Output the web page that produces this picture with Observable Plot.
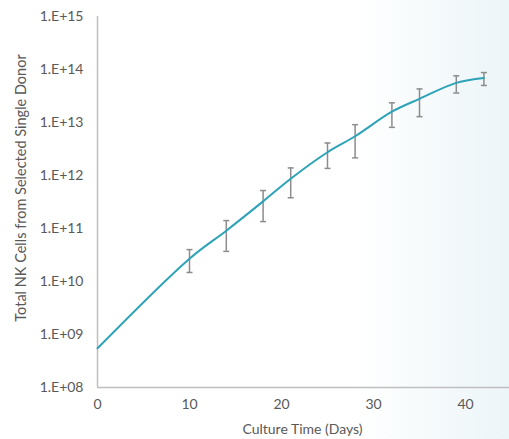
<!DOCTYPE html>
<html>
<head>
<meta charset="utf-8">
<script src="https://cdn.jsdelivr.net/npm/d3@7"></script>
<script src="https://cdn.jsdelivr.net/npm/@observablehq/plot@0.6"></script>
<style>
  html, body { margin: 0; padding: 0; background: #ffffff; }
  #chart svg { display: block; }
</style>
</head>
<body>
<div id="chart"></div>
<script>
const days  = [0, 10, 14, 18, 21, 25, 28, 32, 35, 39, 42];
const cells = [5.5e8, 2.7e10, 9.1e10, 3.25e11, 8.7e11, 2.75e12, 5.5e12, 1.6e13, 2.8e13, 5.6e13, 6.9e13];
const lower = [null, 1.48e10, 3.7e10, 1.35e11, 3.8e11, 1.36e12, 2.15e12, 8.1e12, 1.29e13, 3.6e13, 5.0e13];
const upper = [null, 4.0e10, 1.41e11, 5.2e11, 1.39e12, 4.1e12, 9.1e12, 2.35e13, 4.3e13, 7.6e13, 8.75e13];
const xTicks = [0, 10, 20, 30, 40];
const yTicks = [1e8, 1e9, 1e10, 1e11, 1e12, 1e13, 1e14, 1e15];
const xTitle = "Culture Time (Days)";
const yTitle = "Total NK Cells from Selected Single Donor";

const rows = days.map((d, i) => ({day: d, cells: cells[i], lo: lower[i], hi: upper[i]}));
const bars = rows.filter(r => r.lo != null);
const capSymbol = {
  draw(ctx, size) {
    const w = Math.sqrt(size / Math.PI);
    ctx.moveTo(-w, 0);
    ctx.lineTo(w, 0);
  }
};
const fmt = v => "1.E+" + String(Math.round(Math.log10(v))).padStart(2, "0");
const textColor = "#595959";
const axisColor = "#bfbfbf";

const chart = Plot.plot({
  width: 509,
  height: 439,
  marginLeft: 97,
  marginRight: -2,
  marginTop: 16,
  marginBottom: 52,
  style: {
    background: "linear-gradient(to right, #ffffff 0%, #ffffff 70%, #ecf5f8 100%)",
    fontFamily: "Lato, 'Open Sans', sans-serif",
    fontSize: "14px",
    color: textColor
  },
  x: {domain: [0, 45]},
  y: {type: "log", domain: [1e8, 1e15]},
  marks: [
    Plot.axisX({ticks: xTicks, tickSize: 0, tickPadding: 12, label: null, fill: textColor, fontSize: 14}),
    Plot.axisY({ticks: yTicks, tickSize: 0, tickPadding: 14, tickFormat: fmt, label: null, fill: textColor, fontSize: 14}),
    Plot.ruleX([0], {y1: 1e8, y2: 1e15, stroke: axisColor, strokeWidth: 1.5}),
    Plot.ruleY([1e8], {stroke: axisColor, strokeWidth: 1.5}),
    Plot.ruleX(bars, {x: "day", y1: "lo", y2: "hi", stroke: "#8c8c8c", strokeWidth: 1.5}),
    Plot.dot(bars, {x: "day", y: "lo", symbol: capSymbol, r: 3, fill: "none", stroke: "#8c8c8c", strokeWidth: 1.5}),
    Plot.dot(bars, {x: "day", y: "hi", symbol: capSymbol, r: 3, fill: "none", stroke: "#8c8c8c", strokeWidth: 1.5}),
    Plot.line(rows, {x: "day", y: "cells", curve: "catmull-rom", stroke: "#2ca3b7", strokeWidth: 2}),
    Plot.text([xTitle], {frameAnchor: "bottom", dy: 42, fill: textColor, fontSize: 14, textAnchor: "middle", lineAnchor: "middle", dx: -2}),
    Plot.text([yTitle], {frameAnchor: "left", rotate: -90, dx: -76, dy: -14, fill: textColor, fontSize: 14.5, textAnchor: "middle", lineAnchor: "middle"})
  ]
});
document.getElementById("chart").appendChild(chart);
</script>
</body>
</html>
